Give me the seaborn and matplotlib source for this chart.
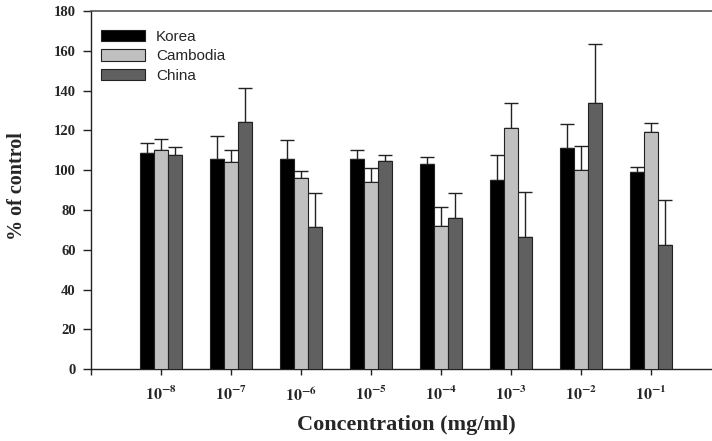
import numpy as np
import pandas as pd
import matplotlib
matplotlib.use("Agg")
import matplotlib.pyplot as plt
from matplotlib.font_manager import FontProperties
import seaborn as sns

# Concentrations tested (mg/ml) and response as % of control
concentrations = ["1e-8", "1e-7", "1e-6", "1e-5", "1e-4", "1e-3", "1e-2", "1e-1"]
tick_labels = [r"$\mathbf{10^{-8}}$", r"$\mathbf{10^{-7}}$", r"$\mathbf{10^{-6}}$",
               r"$\mathbf{10^{-5}}$", r"$\mathbf{10^{-4}}$", r"$\mathbf{10^{-3}}$",
               r"$\mathbf{10^{-2}}$", r"$\mathbf{10^{-1}}$"]
countries = ["Korea", "Cambodia", "China"]

korea_mean = [108.7, 105.5, 105.5, 105.5, 103.2, 95.0, 111.1, 99.1]
korea_err = [5.2, 11.7, 9.7, 4.7, 3.3, 12.5, 12.0, 2.7]
cambodia_mean = [110.0, 104.3, 96.0, 94.0, 72.0, 121.1, 100.0, 119.1]
cambodia_err = [5.6, 5.7, 3.8, 7.3, 9.7, 12.7, 12.2, 4.8]
china_mean = [107.7, 124.1, 71.4, 104.8, 76.2, 66.6, 133.8, 62.5]
china_err = [3.9, 17.1, 17.0, 2.9, 12.5, 22.5, 29.5, 22.6]

means = {"Korea": korea_mean, "Cambodia": cambodia_mean, "China": china_mean}
errs = {"Korea": korea_err, "Cambodia": cambodia_err, "China": china_err}
palette = {"Korea": "#000000", "Cambodia": "#c0c0c0", "China": "#606060"}

df = pd.DataFrame({
    "conc": np.repeat([concentrations], 3, axis=0).ravel(),
    "country": np.repeat(countries, len(concentrations)),
    "value": korea_mean + cambodia_mean + china_mean,
})

sns.set_style("ticks")
plt.rcParams["mathtext.fontset"] = "stix"

fig = plt.figure(figsize=(7.12, 4.41), dpi=100)
ax = fig.add_axes([91 / 712, 71.7 / 441, 630 / 712, 358.3 / 441])

sns.barplot(data=df, x="conc", y="value", hue="country", order=concentrations,
            hue_order=countries, palette=palette, width=0.6, saturation=1,
            errorbar=None, edgecolor="#222222", linewidth=0.8, ax=ax, zorder=3)

# upward-only error bars placed on each bar's centre
for container, country in zip(ax.containers, countries):
    xs = [p.get_x() + p.get_width() / 2 for p in container]
    e = np.array(errs[country])
    ax.errorbar(xs, means[country], yerr=[np.zeros_like(e), e], fmt="none",
                ecolor="#222222", elinewidth=1, capsize=5, capthick=1, zorder=2)

ax.set_xlim(-1, 8)
ax.set_ylim(0, 180)
ax.set_yticks(np.arange(0, 181, 20))
ax.set_xticks(np.arange(-1, 8))
ax.set_xticklabels([""] + tick_labels)

serif_bold = {"family": "Liberation Serif", "weight": "bold"}
for lab in ax.get_yticklabels():
    lab.set_fontproperties(FontProperties(family="Liberation Serif", weight="bold", size=10.5))
for lab in ax.get_xticklabels():
    lab.set_fontsize(11.5)

ax.tick_params(axis="y", direction="out", length=6, width=1, pad=5, color="#222222")
ax.tick_params(axis="x", direction="out", length=4.5, width=1, pad=7, color="#222222")

for side in ["left", "bottom"]:
    ax.spines[side].set_color("#222222")
    ax.spines[side].set_linewidth(1)
ax.spines["top"].set_visible(True)
ax.spines["top"].set_color("#555555")
ax.spines["top"].set_linewidth(1.2)
ax.spines["right"].set_visible(False)

ax.set_xlabel("Concentration (mg/ml)", fontsize=16, labelpad=8, **serif_bold)
ax.set_ylabel("% of control", fontsize=14.5, **serif_bold)
ax.yaxis.set_label_coords(27 / 712, 1 - 186 / 441, transform=fig.transFigure)

handles, labels = ax.get_legend_handles_labels()
ax.legend(handles, labels, loc="upper left", frameon=False,
          bbox_to_anchor=(101 / 712, 1 - 30 / 441), bbox_transform=fig.transFigure,
          borderpad=0, borderaxespad=0, handlelength=2.9, handleheight=0.75,
          handletextpad=0.7, labelspacing=0.35,
          prop={"family": "Liberation Sans", "size": 11})

fig.savefig("out.png", dpi=100)
